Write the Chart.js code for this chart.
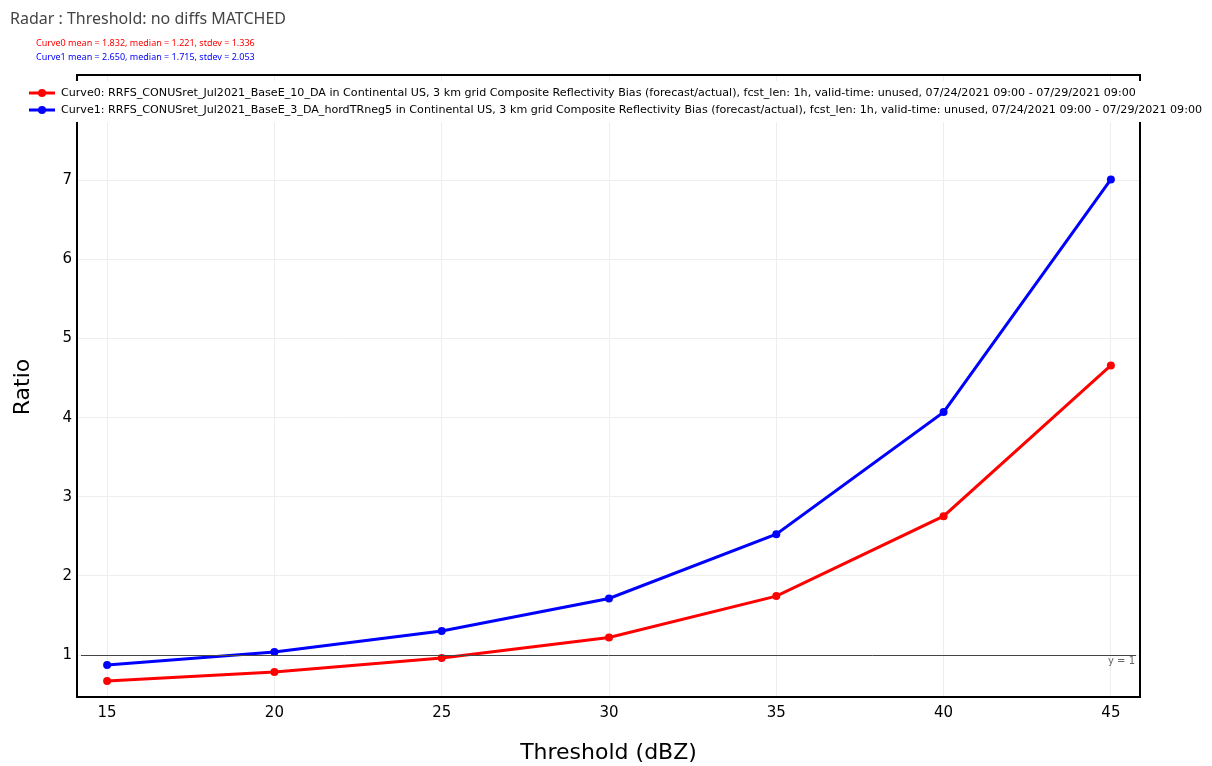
<!DOCTYPE html>
<html>
<head>
<meta charset="utf-8">
<script src="https://cdn.jsdelivr.net/npm/chart.js@4"></script>
<style>
  html, body { margin: 0; padding: 0; background: #fff; }
  #wrap { position: relative; width: 1212px; height: 766px; }
  #plotTitle { position: absolute; left: 10px; top: 7px; font: 16px "Noto Sans", sans-serif; color: #444; white-space: nowrap; }
  .stats { position: absolute; left: 36px; font: 9px "Noto Sans", sans-serif; white-space: nowrap; }
  #stats0 { top: 36px; color: #ff0000; }
  #stats1 { top: 50px; color: #0000ff; }
</style>
</head>
<body>
<div id="wrap">
  <canvas id="ratioChart" width="1212" height="766"></canvas>
  <div id="plotTitle">Radar : Threshold: no diffs MATCHED</div>
  <div class="stats" id="stats0">Curve0 mean = 1.832, median = 1.221, stdev = 1.336</div>
  <div class="stats" id="stats1">Curve1 mean = 2.650, median = 1.715, stdev = 2.053</div>
</div>
<script>
// Thresholds and bias ratios for the two curves
const thresholds = [15, 20, 25, 30, 35, 40, 45];
const curve0Bias = [0.672, 0.785, 0.962, 1.221, 1.745, 2.755, 4.66];
const curve1Bias = [0.874, 1.038, 1.303, 1.715, 2.528, 4.07, 7.01];
const xTicks = [15, 20, 25, 30, 35, 40, 45];
const yTicks = [1, 2, 3, 4, 5, 6, 7];
const curve0Label = 'Curve0: RRFS_CONUSret_Jul2021_BaseE_10_DA in Continental US, 3 km grid Composite Reflectivity Bias (forecast/actual), fcst_len: 1h, valid-time: unused, 07/24/2021 09:00 - 07/29/2021 09:00';
const curve1Label = 'Curve1: RRFS_CONUSret_Jul2021_BaseE_3_DA_hordTRneg5 in Continental US, 3 km grid Composite Reflectivity Bias (forecast/actual), fcst_len: 1h, valid-time: unused, 07/24/2021 09:00 - 07/29/2021 09:00';

const tickFont = '"DejaVu Sans", Verdana, sans-serif';

// frame, y = 1 reference line, axis titles and the in-plot legend
const decorations = {
    id: 'decorations',
    afterDatasetsDraw(chart) {
        const ctx = chart.ctx;
        const area = chart.chartArea;
        const yScale = chart.scales.y;
        const y1 = Math.round(yScale.getPixelForValue(1)) + 0.5;

        ctx.save();
        ctx.strokeStyle = '#444';
        ctx.lineWidth = 1;
        ctx.beginPath();
        ctx.moveTo(area.left + 4, y1);
        ctx.lineTo(area.right - 4, y1);
        ctx.stroke();
        ctx.fillStyle = '#666';
        ctx.font = '10px ' + tickFont;
        ctx.textAlign = 'right';
        ctx.textBaseline = 'top';
        ctx.fillText('y = 1', area.right - 5, y1 + 1);

        ctx.strokeStyle = '#000';
        ctx.lineWidth = 2;
        ctx.strokeRect(area.left, area.top, area.right - area.left, area.bottom - area.top);

        // axis titles
        ctx.fillStyle = '#000';
        ctx.font = '22px ' + tickFont;
        ctx.textAlign = 'center';
        ctx.textBaseline = 'middle';
        ctx.fillText('Threshold (dBZ)', (area.left + area.right) / 2, 753);
        ctx.translate(23, 387);
        ctx.rotate(-Math.PI / 2);
        ctx.fillText('Ratio', 0, 0);
        ctx.restore();
    },
    afterDraw(chart) {
        const ctx = chart.ctx;
        ctx.save();
        ctx.fillStyle = '#fff';
        ctx.fillRect(25, 81, 1184, 41);

        // fit the longest entry to its width in the legend
        ctx.font = '12px ' + tickFont;
        const wide = ctx.measureText(curve1Label).width;
        const size = 12 * 1142 / wide;
        ctx.font = size.toFixed(2) + 'px ' + tickFont;
        ctx.textBaseline = 'middle';
        ctx.textAlign = 'left';

        chart.data.datasets.forEach((ds, i) => {
            const y = 93 + i * 17;
            ctx.strokeStyle = ds.borderColor;
            ctx.lineWidth = 3;
            ctx.beginPath();
            ctx.moveTo(29, y);
            ctx.lineTo(55, y);
            ctx.stroke();
            ctx.fillStyle = ds.borderColor;
            ctx.beginPath();
            ctx.arc(42, y, 4, 0, Math.PI * 2);
            ctx.fill();
            ctx.fillStyle = '#000';
            ctx.fillText(ds.label, 61, y + 0.5);
        });
        ctx.restore();
    }
};

const ctxRatio = document.getElementById('ratioChart').getContext('2d');
const ratioChart = new Chart(ctxRatio, {
    type: 'line',
    data: {
        datasets: [
            {
                label: curve0Label,
                data: thresholds.map((t, i) => ({ x: t, y: curve0Bias[i] })),
                borderColor: '#ff0000',
                backgroundColor: '#ff0000',
                borderWidth: 3,
                pointRadius: 4,
                pointBorderWidth: 0
            },
            {
                label: curve1Label,
                data: thresholds.map((t, i) => ({ x: t, y: curve1Bias[i] })),
                borderColor: '#0000ff',
                backgroundColor: '#0000ff',
                borderWidth: 3,
                pointRadius: 4,
                pointBorderWidth: 0
            }
        ]
    },
    options: {
        responsive: false,
        animation: false,
        layout: {
            padding: { top: 75, right: 72, left: 0, bottom: 0 }
        },
        plugins: {
            legend: { display: false },
            tooltip: { enabled: false }
        },
        scales: {
            x: {
                type: 'linear',
                min: 14.1,
                max: 45.87,
                afterBuildTicks: scale => { scale.ticks = xTicks.map(v => ({ value: v })); },
                afterFit: scale => { scale.height = 69; },
                grid: { color: '#eeeeee', lineWidth: 1, drawTicks: false },
                border: { display: false },
                ticks: {
                    color: '#000',
                    padding: 7,
                    font: { family: tickFont, size: 15 }
                }
            },
            y: {
                type: 'linear',
                min: 0.47,
                max: 8.33,
                afterBuildTicks: scale => { scale.ticks = yTicks.map(v => ({ value: v })); },
                afterFit: scale => { scale.width = 77; },
                grid: { color: '#eeeeee', lineWidth: 1, drawTicks: false },
                border: { display: false },
                ticks: {
                    color: '#000',
                    padding: 5,
                    font: { family: tickFont, size: 15 }
                }
            }
        }
    },
    plugins: [decorations]
});
</script>
</body>
</html>
